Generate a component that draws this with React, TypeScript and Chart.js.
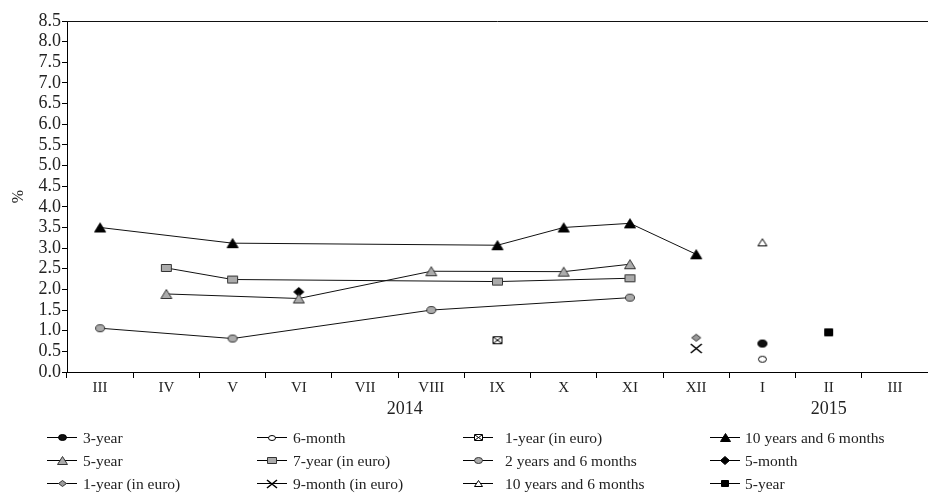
import React, { useEffect, useRef } from 'react';
import { Chart, registerables } from 'chart.js';

Chart.register(...registerables);

// ---------- data ----------
const months = ['III', 'IV', 'V', 'VI', 'VII', 'VIII', 'IX', 'X', 'XI', 'XII', 'I', 'II', 'III'];
const years = ['2014', '2015'];
const yearAnchors = [5.1, 11.5]; // month-slot positions where the year labels sit

const threeYear = [null, null, null, null, null, null, null, null, null, null, 0.69, null, null];
const sixMonth = [null, null, null, null, null, null, null, null, null, null, 0.31, null, null];
const oneYearEuroA = [null, null, null, null, null, null, 0.77, null, null, null, null, null, null];
const tenYearsSixMonthsA = [3.5, null, 3.12, null, null, null, 3.07, 3.5, 3.6, 2.85, null, null, null];
const fiveYearA = [null, 1.89, null, 1.78, null, 2.44, null, 2.43, 2.61, null, null, null, null];
const sevenYearEuro = [null, 2.52, 2.24, null, null, null, 2.19, null, 2.27, null, null, null, null];
const twoYearsSixMonths = [1.06, null, 0.81, null, null, 1.5, null, null, 1.8, null, null, null, null];
const fiveMonth = [null, null, null, 1.94, null, null, null, null, null, null, null, null, null];
const oneYearEuroB = [null, null, null, null, null, null, null, null, null, 0.83, null, null, null];
const nineMonthEuro = [null, null, null, null, null, null, null, null, null, 0.57, null, null, null];
const tenYearsSixMonthsB = [null, null, null, null, null, null, null, null, null, null, 3.14, null, null];
const fiveYearB = [null, null, null, null, null, null, null, null, null, null, null, 0.96, null];

const seriesNames = [
  '3-year', '6-month', '1-year (in euro)', '10 years and 6 months',
  '5-year', '7-year (in euro)', '2 years and 6 months', '5-month',
  '1-year (in euro)', '9-month (in euro)', '10 years and 6 months', '5-year',
];
const seriesValues = [
  threeYear, sixMonth, oneYearEuroA, tenYearsSixMonthsA,
  fiveYearA, sevenYearEuro, twoYearsSixMonths, fiveMonth,
  oneYearEuroB, nineMonthEuro, tenYearsSixMonthsB, fiveYearB,
];

// ---------- styles ----------
const FONT = "'Liberation Serif', 'Times New Roman', serif";
const TEXT = '#222';
const GRAY = '#ababab';
const DGRAY = '#9a9a9a';

type Shape = 'circle' | 'triangle' | 'square' | 'diamond' | 'cross' | 'xsquare';
const markerSpecs: [Shape, number, number, string, string][] = [
  ['circle', 10, 8, '#111', '#000'],
  ['circle', 9, 7, '#fff', '#000'],
  ['xsquare', 10, 8, '#fff', '#000'],
  ['triangle', 12, 10, '#000', '#000'],
  ['triangle', 12, 10, GRAY, '#333'],
  ['square', 11, 8, GRAY, '#333'],
  ['circle', 10, 8, GRAY, '#333'],
  ['diamond', 11, 10, '#000', '#000'],
  ['diamond', 10, 8, DGRAY, '#333'],
  ['cross', 11, 9, '#000', '#000'],
  ['triangle', 10, 8, '#fff', '#000'],
  ['square', 9, 8, '#000', '#000'],
];

function makeMarker(shape: Shape, w: number, h: number, fill: string, stroke: string, scale = 1) {
  const W = Math.round(w * scale);
  const H = Math.round(h * scale);
  const c = document.createElement('canvas');
  c.width = W + 2;
  c.height = H + 2;
  const g = c.getContext('2d')!;
  g.lineWidth = 1;
  g.fillStyle = fill;
  g.strokeStyle = stroke;
  const x0 = 1;
  const y0 = 1;
  g.beginPath();
  if (shape === 'circle') {
    g.ellipse(x0 + W / 2, y0 + H / 2, W / 2 - 0.5, H / 2 - 0.5, 0, 0, Math.PI * 2);
  } else if (shape === 'triangle') {
    g.moveTo(x0 + W / 2, y0 + 0.5);
    g.lineTo(x0 + W - 0.5, y0 + H - 0.5);
    g.lineTo(x0 + 0.5, y0 + H - 0.5);
    g.closePath();
  } else if (shape === 'square' || shape === 'xsquare') {
    g.rect(x0 + 0.5, y0 + 0.5, W - 1, H - 1);
  } else if (shape === 'diamond') {
    g.moveTo(x0 + W / 2, y0 + 0.5);
    g.lineTo(x0 + W - 0.5, y0 + H / 2);
    g.lineTo(x0 + W / 2, y0 + H - 0.5);
    g.lineTo(x0 + 0.5, y0 + H / 2);
    g.closePath();
  } else if (shape === 'cross') {
    g.lineWidth = 1.6;
    g.moveTo(x0, y0);
    g.lineTo(x0 + W, y0 + H);
    g.moveTo(x0 + W, y0);
    g.lineTo(x0, y0 + H);
    g.stroke();
    return c;
  }
  g.fill();
  g.stroke();
  if (shape === 'xsquare') {
    g.beginPath();
    g.moveTo(x0 + 1, y0 + 1);
    g.lineTo(x0 + W - 1, y0 + H - 1);
    g.moveTo(x0 + W - 1, y0 + 1);
    g.lineTo(x0 + 1, y0 + H - 1);
    g.stroke();
  }
  return c;
}

const legendCols = [47, 257, 463, 710];
const legendTextOffset = [36, 36, 42, 35];
const legendRow0 = 65;
const legendRowGap = 23;

export default function App() {
  const ref = useRef<HTMLCanvasElement | null>(null);

  useEffect(() => {
    if (!ref.current) return;
    const markers = markerSpecs.map(([s, w, h, f, st]) => makeMarker(s, w, h, f, st));
    const legendMarkers = markerSpecs.map(([s, w, h, f, st]) => makeMarker(s, w, h, f, st, 0.9));

    const legendPlugin = {
      id: 'gridLegend',
      afterDraw(chart: any) {
        const ctx = chart.ctx as CanvasRenderingContext2D;
        const area = chart.chartArea;
        ctx.save();
        ctx.strokeStyle = '#111';
        ctx.lineWidth = 1;
        ctx.beginPath();
        const ty = Math.round(area.top) + 0.5;
        ctx.moveTo(area.left, ty);
        ctx.lineTo(area.right, ty);
        ctx.stroke();

        chart.data.datasets.forEach((ds: any, i: number) => {
          const row = Math.floor(i / 4);
          const col = i % 4;
          const x0 = legendCols[col];
          const y = Math.round(area.bottom + legendRow0 + row * legendRowGap) + 0.5;
          ctx.strokeStyle = '#000';
          ctx.lineWidth = 1;
          ctx.beginPath();
          ctx.moveTo(x0, y);
          ctx.lineTo(x0 + 30, y);
          ctx.stroke();
          const m = legendMarkers[i];
          ctx.drawImage(m, Math.round(x0 + 15 - m.width / 2), Math.round(y - m.height / 2));
          ctx.fillStyle = TEXT;
          ctx.font = `15.5px ${FONT}`;
          ctx.textBaseline = 'middle';
          ctx.textAlign = 'left';
          ctx.fillText(ds.label, x0 + legendTextOffset[col], y + 1);
        });
        ctx.restore();
      },
    };

    const noSidePadding = (s: any) => {
      s.paddingLeft = 0;
      s.paddingRight = 0;
    };

    const chart = new Chart(ref.current, {
      type: 'line',
      data: {
        labels: months,
        datasets: seriesNames.map((name, i) => ({
          label: name,
          data: seriesValues[i],
          borderColor: '#111',
          borderWidth: 1,
          pointStyle: markers[i],
          pointRadius: 5,
          pointHoverRadius: 5,
          spanGaps: true,
          tension: 0,
          fill: false,
        })),
      },
      options: {
        responsive: false,
        animation: false,
        events: [],
        layout: { autoPadding: false, padding: { top: 21, left: 0, right: 0, bottom: 71 } },
        plugins: { legend: { display: false }, tooltip: { enabled: false } },
        scales: {
          x: {
            type: 'category',
            position: 'bottom',
            offset: true,
            grid: { offset: true, drawOnChartArea: false, tickLength: 6, color: '#000' },
            border: { display: true, color: '#000', width: 1 },
            ticks: { autoSkip: false, maxRotation: 0, padding: 1, color: TEXT, font: { family: FONT, size: 15 } },
            afterFit: (s: any) => { s.height = 25; noSidePadding(s); },
          },
          year: {
            type: 'linear',
            position: 'bottom',
            weight: 1,
            min: 0,
            max: months.length,
            grid: { display: false, drawTicks: false },
            border: { display: false },
            afterBuildTicks: (s: any) => { s.ticks = yearAnchors.map((v) => ({ value: v })); },
            ticks: {
              autoSkip: false,
              maxRotation: 0,
              padding: 1,
              color: TEXT,
              font: { family: FONT, size: 18 },
              callback: (_v: any, idx: number) => years[idx],
            },
            afterFit: (s: any) => { s.height = 27; noSidePadding(s); },
          },
          y: {
            type: 'linear',
            min: 0,
            max: 8.5,
            grid: { drawOnChartArea: false, tickLength: 5, color: '#000' },
            border: { display: true, color: '#000', width: 1 },
            ticks: {
              stepSize: 0.5,
              autoSkip: false,
              padding: 1,
              color: TEXT,
              font: { family: FONT, size: 18 },
              callback: (v: any) => Number(v).toFixed(1),
            },
            title: { display: true, text: '%', color: TEXT, font: { family: FONT, size: 16 }, padding: { top: 9, bottom: 0 } },
            afterFit: (s: any) => { s.width = 67; },
          },
        },
      },
      plugins: [legendPlugin],
    } as any);
    return () => chart.destroy();
  }, []);

  return (
    <div style={{ position: 'absolute', left: 0, top: 0, width: 928, height: 495, background: '#fff' }}>
      <canvas ref={ref} width={928} height={495} />
    </div>
  );
}
